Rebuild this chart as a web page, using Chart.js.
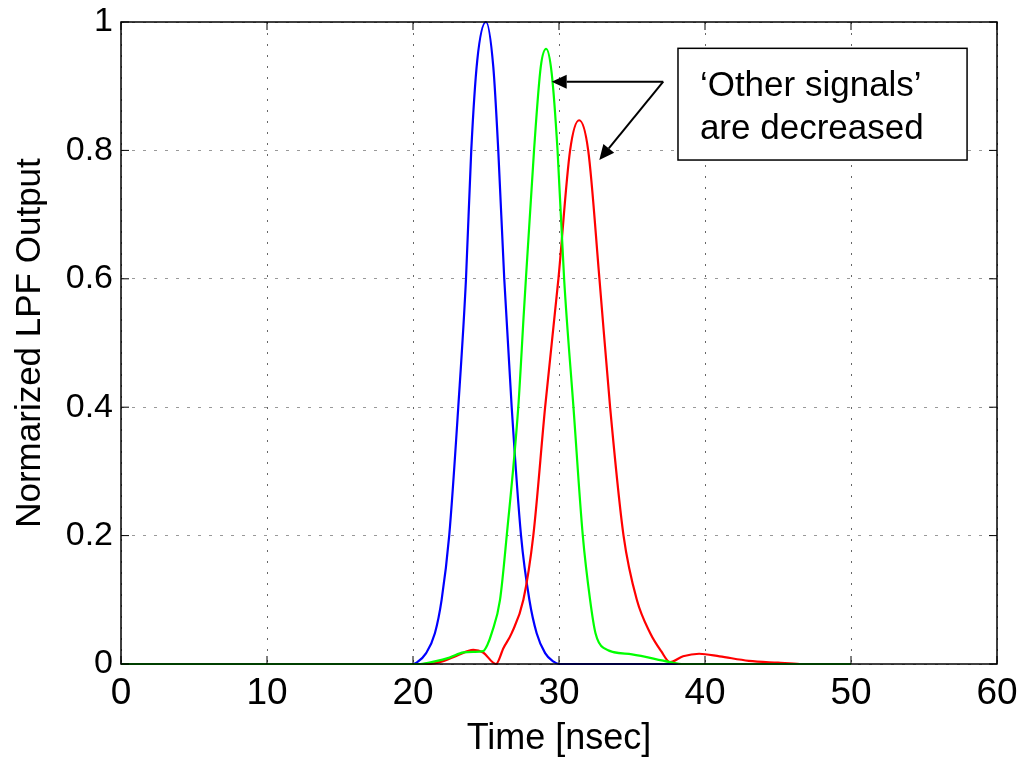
<!DOCTYPE html>
<html>
<head>
<meta charset="utf-8">
<script src="https://cdn.jsdelivr.net/npm/chart.js@4.4.1/dist/chart.umd.min.js"></script>
<style>
  body { margin: 0; background: #fff; }
  #contenedor { width: 1021px; height: 761px; position: relative; }
</style>
</head>
<body>
<div id="contenedor"><canvas id="lpfChart"></canvas></div>
<script>
// Datos: tiempo en nsec y salida normalizada del LPF
const tiempoAzul = [0, 20, 20.25, 20.9, 21.5, 21.96, 22.48, 23.1, 23.63, 23.99, 24.4, 25.0, 25.5, 25.84, 26.25, 26.76, 27.4, 27.97, 28.47, 29.05, 29.6, 30, 50];
const valorAzul  = [0, 0, 0.002, 0.017, 0.048, 0.10, 0.20, 0.40, 0.60, 0.80, 0.94, 1.00, 0.93, 0.80, 0.60, 0.40, 0.20, 0.10, 0.048, 0.017, 0.004, 0, 0];

const tiempoVerde = [0, 20.5, 21.5, 22.5, 23.45, 24.2, 24.8, 25.1, 25.39, 25.96, 26.42, 27.21, 27.6, 28.29, 28.75, 29.12, 29.5, 29.9, 30.35, 30.99, 31.63, 32.13, 32.5, 33.05, 35, 37.6, 38.5, 50];
const valorVerde  = [0, 0, 0.004, 0.01, 0.018, 0.019, 0.02, 0.03, 0.048, 0.10, 0.20, 0.40, 0.55, 0.80, 0.93, 0.958, 0.92, 0.80, 0.60, 0.40, 0.20, 0.10, 0.048, 0.025, 0.015, 0.003, 0, 0];

const tiempoRojo = [0, 21, 22, 23, 24.13, 24.8, 25.68, 26.2, 26.76, 27.56, 28.24, 29.05, 29.96, 30.76, 31.38, 32.0, 32.77, 33.5, 34.42, 35.33, 36.25, 37.0, 37.6, 38.5, 39.6, 41, 43, 45, 46.5, 50];
const valorRojo  = [0, 0, 0.004, 0.013, 0.022, 0.018, 0, 0.025, 0.048, 0.10, 0.20, 0.40, 0.60, 0.80, 0.847, 0.80, 0.60, 0.40, 0.20, 0.10, 0.048, 0.02, 0.003, 0.012, 0.016, 0.012, 0.005, 0.002, 0, 0];

const ticksX = [0, 10, 20, 30, 40, 50, 60];
const ticksY = [0, 0.2, 0.4, 0.6, 0.8, 1];

const textoAnotacion = ['\u2018Other signals\u2019', 'are decreased'];

const fuente = 'Arial, "Liberation Sans", sans-serif';

function puntos(tiempos, valores) {
    return tiempos.map((t, i) => ({ x: t, y: valores[i] }));
}

function serie(tiempos, valores, color) {
    return {
        data: puntos(tiempos, valores),
        borderColor: color,
        borderWidth: 2.2,
        pointRadius: 0,
        fill: false,
        cubicInterpolationMode: 'monotone',
        clip: 6
    };
}

// Marco completo, marcas de ticks hacia adentro y la anotación con flechas
const marcoPlugin = {
    id: 'marco',
    afterDatasetsDraw(chart) {
        const { ctx, chartArea: a, scales: { x, y } } = chart;
        ctx.save();
        ctx.strokeStyle = '#000';
        ctx.lineWidth = 1.5;
        ctx.strokeRect(a.left, a.top, a.right - a.left, a.bottom - a.top);

        ctx.lineWidth = 1;
        ctx.beginPath();
        ticksX.forEach(v => {
            const px = x.getPixelForValue(v);
            ctx.moveTo(px, a.bottom); ctx.lineTo(px, a.bottom - 8);
            ctx.moveTo(px, a.top); ctx.lineTo(px, a.top + 8);
        });
        ticksY.forEach(v => {
            const py = y.getPixelForValue(v);
            ctx.moveTo(a.left, py); ctx.lineTo(a.left + 8, py);
            ctx.moveTo(a.right, py); ctx.lineTo(a.right - 8, py);
        });
        ctx.stroke();

        // Caja de texto
        const bx1 = x.getPixelForValue(38.15), bx2 = x.getPixelForValue(57.95);
        const by1 = y.getPixelForValue(0.959), by2 = y.getPixelForValue(0.785);
        ctx.fillStyle = '#fff';
        ctx.fillRect(bx1, by1, bx2 - bx1, by2 - by1);
        ctx.lineWidth = 1.5;
        ctx.strokeRect(bx1, by1, bx2 - bx1, by2 - by1);

        ctx.fillStyle = '#000';
        ctx.font = '35px ' + fuente;
        ctx.textBaseline = 'alphabetic';
        ctx.textAlign = 'left';
        ctx.fillText(textoAnotacion[0], x.getPixelForValue(39.65), y.getPixelForValue(0.884));
        ctx.fillText(textoAnotacion[1], x.getPixelForValue(39.65), y.getPixelForValue(0.817));

        // Flechas
        const ox = x.getPixelForValue(37.14), oy = y.getPixelForValue(0.907);
        flecha(ctx, ox, oy, x.getPixelForValue(29.5), y.getPixelForValue(0.907));
        flecha(ctx, ox, oy, x.getPixelForValue(32.76), y.getPixelForValue(0.785));
        ctx.restore();
    }
};

function flecha(ctx, x1, y1, x2, y2) {
    const ang = Math.atan2(y2 - y1, x2 - x1);
    const largo = 15, ancho = 7;
    const bx = x2 - largo * Math.cos(ang), by = y2 - largo * Math.sin(ang);
    ctx.strokeStyle = '#000';
    ctx.lineWidth = 2;
    ctx.beginPath();
    ctx.moveTo(x1, y1);
    ctx.lineTo(bx, by);
    ctx.stroke();
    ctx.beginPath();
    ctx.moveTo(x2, y2);
    ctx.lineTo(bx + ancho * Math.sin(ang), by - ancho * Math.cos(ang));
    ctx.lineTo(bx - ancho * Math.sin(ang), by + ancho * Math.cos(ang));
    ctx.closePath();
    ctx.fill();
}

const ctx = document.getElementById('lpfChart').getContext('2d');

new Chart(ctx, {
    type: 'line',
    data: {
        // verde primero para que quede encima (Chart.js dibuja el índice 0 al final)
        datasets: [
            serie(tiempoVerde, valorVerde, '#00ff00'),
            serie(tiempoRojo, valorRojo, '#ff0000'),
            serie(tiempoAzul, valorAzul, '#0000ff')
        ]
    },
    options: {
        responsive: true,
        maintainAspectRatio: false,
        animation: false,
        layout: { padding: { top: 22, right: 24, left: 0, bottom: 0 } },
        plugins: {
            legend: { display: false },
            tooltip: { enabled: false }
        },
        scales: {
            x: {
                type: 'linear',
                min: 0,
                max: 60,
                afterFit: (scale) => {
                    scale.height = 97;
                    scale.paddingLeft = 0;
                    scale.paddingRight = 0;
                },
                afterBuildTicks: (scale) => { scale.ticks = ticksX.map(v => ({ value: v })); },
                ticks: {
                    color: '#000',
                    font: { family: fuente, size: 37 },
                    padding: 8,
                    maxRotation: 0
                },
                grid: {
                    color: '#666',
                    lineWidth: 1,
                    drawTicks: false
                },
                border: { display: false, dash: [2, 9] },
                title: {
                    display: true,
                    text: 'Time [nsec]',
                    color: '#000',
                    font: { family: fuente, size: 36 },
                    padding: { top: 0, bottom: 0 }
                }
            },
            y: {
                min: 0,
                max: 1,
                afterFit: (scale) => {
                    scale.width = 121;
                    scale.paddingTop = 0;
                    scale.paddingBottom = 0;
                },
                afterBuildTicks: (scale) => { scale.ticks = ticksY.map(v => ({ value: v })); },
                ticks: {
                    color: '#000',
                    font: { family: fuente, size: 34 },
                    padding: 8,
                    callback: (v) => String(v)
                },
                grid: {
                    color: '#999',
                    lineWidth: 1,
                    drawTicks: false
                },
                border: { display: false, dash: [3, 8] },
                title: {
                    display: true,
                    text: 'Normarized LPF Output',
                    color: '#000',
                    font: { family: fuente, size: 35 },
                    padding: { top: 9, bottom: 0 }
                }
            }
        }
    },
    plugins: [marcoPlugin]
});
</script>
</body>
</html>
